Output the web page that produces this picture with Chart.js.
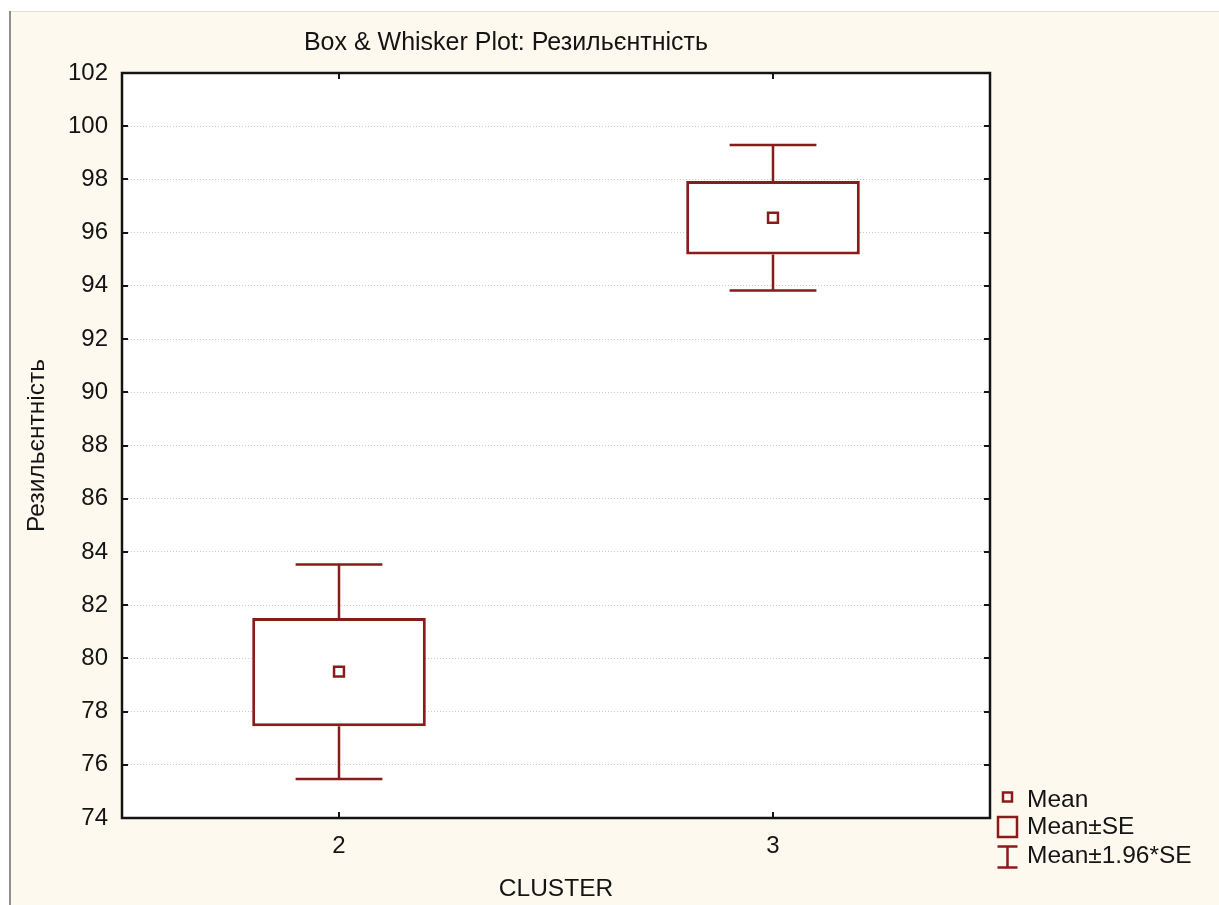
<!DOCTYPE html>
<html>
<head>
<meta charset="utf-8">
<script src="https://cdn.jsdelivr.net/npm/chart.js@4/dist/chart.umd.min.js"></script>
<style>
  html, body { margin: 0; padding: 0; background: #ffffff; overflow: hidden; }
  #wrap { width: 1219px; height: 905px; }
</style>
</head>
<body>
<div id="wrap"><canvas id="c" width="1219" height="905"></canvas></div>
<script>
// ---- data ----
const categories = ['2', '3'];
const meanValues = [79.50, 96.56];
const seLow = [77.45, 95.18];
const seHigh = [81.52, 97.94];
const ciLow = [75.47, 93.83];
const ciHigh = [83.53, 99.29];
const yMin = 74;
const yMax = 102;
const yStep = 2;
const titleText = 'Box & Whisker Plot: Резильєнтність';
const yTitleText = 'Резильєнтність';
const xTitleText = 'CLUSTER';
const legendLabels = ['Mean', 'Mean±SE', 'Mean±1.96*SE'];

// ---- styles ----
const FONT = "'Liberation Sans', Arial, sans-serif";
const RED = '#8B1A1A';
const INK = '#141414';
const CREAM = '#FEF9EE';

const framePlugin = {
  id: 'frame',
  beforeDraw(chart) {
    const ctx = chart.ctx;
    const W = chart.width, H = chart.height;
    ctx.save();
    ctx.fillStyle = '#ffffff';
    ctx.fillRect(0, 0, W, H);
    ctx.fillStyle = CREAM;
    ctx.fillRect(11, 12, W - 11, H - 12);
    ctx.fillStyle = '#e4e0d8';
    ctx.fillRect(9, 11, W - 9, 1);
    ctx.fillStyle = '#8e8e8e';
    ctx.fillRect(9, 11, 2, H - 11);
    const a = chart.chartArea;
    ctx.fillStyle = '#ffffff';
    ctx.fillRect(a.left, a.top, a.right - a.left, a.bottom - a.top);
    ctx.restore();
  },
  afterDraw(chart) {
    const ctx = chart.ctx;
    const a = chart.chartArea;
    const ys = chart.scales.y, xs = chart.scales.x;
    ctx.save();
    ctx.strokeStyle = INK;
    ctx.lineWidth = 2.5;
    ctx.strokeRect(a.left, a.top, a.right - a.left, a.bottom - a.top);
    ctx.lineWidth = 2;
    ctx.beginPath();
    ys.ticks.forEach(t => {
      const y = Math.round(ys.getPixelForValue(t.value));
      ctx.moveTo(a.left, y); ctx.lineTo(a.left + 6, y);
      ctx.moveTo(a.right, y); ctx.lineTo(a.right - 6, y);
    });
    categories.forEach((c, i) => {
      const x = Math.round(xs.getPixelForValue(i));
      ctx.moveTo(x, a.top); ctx.lineTo(x, a.top + 6);
      ctx.moveTo(x, a.bottom); ctx.lineTo(x, a.bottom - 6);
    });
    ctx.stroke();

    // legend
    const lx = 1007.5;
    const rows = [797, 827, 857];
    ctx.strokeStyle = RED;
    ctx.lineWidth = 2.5;
    ctx.strokeRect(lx - 4.5, rows[0] - 4.5, 9, 9);
    ctx.strokeRect(lx - 9.5, rows[1] - 10, 19, 20);
    ctx.beginPath();
    ctx.moveTo(lx - 10, rows[2] - 10.5); ctx.lineTo(lx + 10, rows[2] - 10.5);
    ctx.moveTo(lx - 10, rows[2] + 10.5); ctx.lineTo(lx + 10, rows[2] + 10.5);
    ctx.moveTo(lx, rows[2] - 10.5); ctx.lineTo(lx, rows[2] + 10.5);
    ctx.stroke();
    ctx.fillStyle = INK;
    ctx.font = '24.5px ' + FONT;
    ctx.textAlign = 'left';
    ctx.textBaseline = 'middle';
    const ty = [800, 827, 856];
    legendLabels.forEach((s, i) => ctx.fillText(s, 1027, ty[i]));
    ctx.restore();
  }
};

const whiskerPlugin = {
  id: 'whiskers',
  afterDatasetsDraw(chart) {
    const ctx = chart.ctx;
    const xs = chart.scales.x, ys = chart.scales.y;
    const barMeta = chart.getDatasetMeta(1);
    ctx.save();
    ctx.strokeStyle = RED;
    ctx.lineWidth = 2.5;
    ctx.lineCap = 'butt';
    ctx.beginPath();
    categories.forEach((c, i) => {
      const x = Math.round(xs.getPixelForValue(i));
      const half = barMeta.data[i].width * 0.25;
      const yHi = ys.getPixelForValue(ciHigh[i]);
      const yLo = ys.getPixelForValue(ciLow[i]);
      const bHi = ys.getPixelForValue(seHigh[i]);
      const bLo = ys.getPixelForValue(seLow[i]);
      ctx.moveTo(x - half, yHi); ctx.lineTo(x + half, yHi);
      ctx.moveTo(x, yHi); ctx.lineTo(x, bHi);
      ctx.moveTo(x - half, yLo); ctx.lineTo(x + half, yLo);
      ctx.moveTo(x, yLo); ctx.lineTo(x, bLo);
    });
    ctx.stroke();
    ctx.restore();
  }
};

new Chart(document.getElementById('c'), {
  data: {
    labels: categories,
    datasets: [
      {
        type: 'line',
        label: legendLabels[0],
        data: meanValues,
        showLine: false,
        pointStyle: 'rect',
        pointRadius: 7,
        pointBorderWidth: 2.5,
        pointBorderColor: RED,
        pointBackgroundColor: '#ffffff',
        order: 0
      },
      {
        type: 'bar',
        label: legendLabels[1],
        data: categories.map((c, i) => [seLow[i], seHigh[i]]),
        backgroundColor: '#ffffff',
        borderColor: RED,
        borderWidth: 3,
        borderSkipped: false,
        categoryPercentage: 1,
        barPercentage: 0.4,
        order: 1
      }
    ]
  },
  options: {
    responsive: false,
    animation: false,
    devicePixelRatio: 1,
    layout: { padding: { left: 22, right: 229, top: 0, bottom: 0 } },
    plugins: {
      legend: { display: false },
      tooltip: { enabled: false },
      title: {
        display: true,
        text: titleText,
        color: INK,
        font: { family: FONT, size: 25, weight: 'normal', lineHeight: 1.2 },
        padding: { top: 28, bottom: 15 }
      }
    },
    scales: {
      x: {
        type: 'category',
        offset: true,
        grid: { display: false, drawTicks: false },
        border: { display: false },
        ticks: { color: INK, font: { family: FONT, size: 24 }, padding: 14 },
        title: {
          display: true, text: xTitleText, color: INK,
          font: { family: FONT, size: 24.5, lineHeight: 1.2 },
          padding: { top: 0, bottom: 1 }
        },
        afterFit(scale) { scale.height = 87; }
      },
      y: {
        min: yMin, max: yMax,
        ticks: { stepSize: yStep, color: INK, font: { family: FONT, size: 24 }, padding: 14 },
        grid: { color: '#c9c9c9', lineWidth: 1, drawTicks: false },
        border: { display: false, dash: [1, 2] },
        title: {
          display: true, text: yTitleText, color: INK,
          font: { family: FONT, size: 24.5, lineHeight: 1.2 },
          padding: { top: 1, bottom: 0 }
        },
        afterFit(scale) { scale.width = 100; }
      }
    }
  },
  plugins: [framePlugin, whiskerPlugin]
});
</script>
</body>
</html>
